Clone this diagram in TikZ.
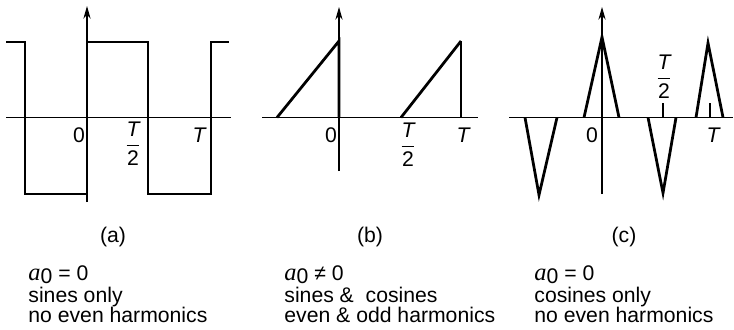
\documentclass[tikz,border=0pt]{standalone}
\usepackage{fontspec}
\setmainfont{Liberation Sans}
\newfontfamily\timesfont{Liberation Serif}
\usetikzlibrary{arrows.meta}
\newcommand{\azero}{{\timesfont\itshape\fontsize{11.5}{12}\selectfont a}\raisebox{-0.3ex}[\height][0pt]{0}}
\newcommand{\halfT}{$\displaystyle\frac{\mbox{\itshape T}}{\mbox{2}}$}

\begin{document}
\begin{tikzpicture}[x=0.472pt,y=-0.472pt,>={Stealth[length=6pt,width=3.4pt]},
  axis/.style={line width=0.5pt},
  wave/.style={line width=0.6pt},
  ramp/.style={line width=1.3pt,line join=miter},
  note/.style={anchor=base west,inner sep=0pt}]
  \useasboundingbox (0,0) rectangle (734,329);

  % (a) square wave
  \draw[axis] (6,117.5) -- (231,117.5);
  \draw[axis,->] (87,202) -- (87,6);
  \draw[wave] (6,42) -- (25,42) -- (25,194) -- (87,194) -- (87,42) -- (148,42)
    -- (148,194) -- (211,194) -- (211,42) -- (229,42);
  \node (zeroa) at (79,135) {0};
  \node (halfa) at (133,144) {\halfT};
  \node (Ta) at (199,135) {\itshape T};

  % (b) sawtooth
  \draw[axis] (262,117.5) -- (478,117.5);
  \draw[axis,->] (339,171) -- (339,7);
  \draw[ramp] (277,117.5) -- (339,41) -- (339,117.5);
  \draw[ramp] (401,117.5) -- (461,41);
  \draw[axis] (461,41) -- (461,117.5);
  \node (zerob) at (331,135) {0};
  \node (halfb) at (408,145) {\halfT};
  \node (Tb) at (463,135) {\itshape T};

  % (c) triangle pulses
  \draw[axis] (509,117.5) -- (733,117.5);
  \draw[axis,->] (602,194) -- (602,7);
  \foreach \l/\m/\r/\h in {525/539/557/195, 584/602/619/37, 648/663/676/193, 696/708/723/43}
    \draw[ramp] (\l,117.5) -- (\m,\h) -- (\r,117.5);
  \foreach \t in {663,710}
    \draw[axis] (\t,103) -- (\t,117.5);
  \node (zeroc) at (592,135) {0};
  \node (halfc) at (664,77) {\halfT};
  \node (Tc) at (713,135) {\itshape T};

  % captions and notes
  \foreach \n/\x in {a/113,b/370,c/624}
    \node[anchor=base] (cap\n) at (\x,242) {(\n)};
  \node[note] (a1) at (28,280) {\azero{} = 0};
  \node[note] (a2) at (28,302) {sines only};
  \node[note] (a3) at (28,322) {no even harmonics};
  \node[note] (b1) at (284,280) {\azero{} ≠ 0};
  \node[note] (b2) at (284,302) {sines \&\ \ cosines};
  \node[note] (b3) at (284,322) {even \& odd harmonics};
  \node[note] (c1) at (534,280) {\azero{} = 0};
  \node[note] (c2) at (534,302) {cosines only};
  \node[note] (c3) at (534,322) {no even harmonics};
\end{tikzpicture}
\end{document}
